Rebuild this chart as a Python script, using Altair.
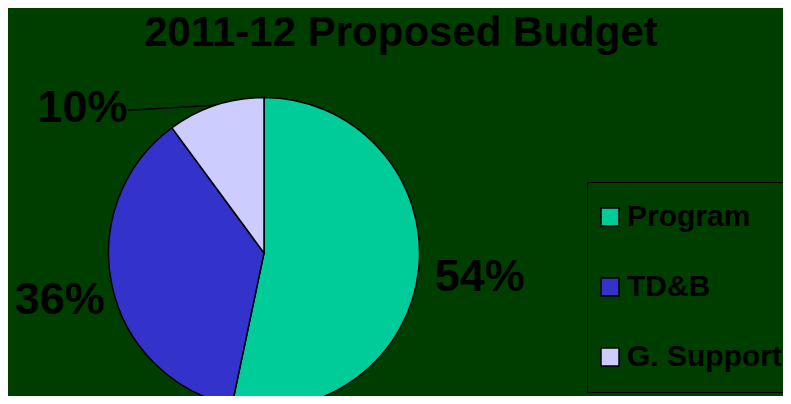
import altair as alt
import pandas as pd

# ---- data ----
categories = ["Program", "TD&B", "G. Support"]
shares = [53.3, 36.6, 10.1]          # slice sizes as drawn
labels = ["54%", "36%", "10%"]       # printed labels
colors = ["#00CC99", "#3333CC", "#CCCCFF"]
title_text = "2011-12 Proposed Budget"

df = pd.DataFrame({
    "category": categories,
    "share": shares,
    "label": labels,
    "idx": list(range(len(categories))),
})

FONT = "Liberation Sans"
CX, CY, R = 256, 245, 155.5   # pie centre / radius (plot coords)
BG = "#003E00"

base = alt.Chart(df).encode(
    theta=alt.Theta("share:Q", stack=True),
    order=alt.Order("idx:Q"),
)

arcs = base.mark_arc(radius=R, stroke="black", strokeWidth=1.5).encode(
    x=alt.value(CX),
    y=alt.value(CY),
    color=alt.Color(
        "category:N",
        sort=categories,
        scale=alt.Scale(domain=categories, range=colors),
        legend=alt.Legend(
            title=None, orient="none", legendX=579, legendY=174,
            direction="vertical", symbolType="square", symbolSize=324,
            symbolStrokeColor="black", symbolStrokeWidth=1.5, symbolOpacity=1,
            symbolOffset=-12,
            labelFont=FONT, labelFontSize=30, labelFontWeight="bold",
            labelColor="black", labelOffset=2, rowPadding=40, padding=20,
            strokeColor="black", labelLimit=400,
        ),
    ),
)


def pct_label(cat, radius, dx, dy, align):
    return base.mark_text(
        radius=radius, dx=dx, dy=dy, align=align, baseline="middle",
        font=FONT, fontSize=45, fontWeight="bold", color="black",
    ).encode(
        x=alt.value(CX),
        y=alt.value(CY),
        text=alt.condition(alt.datum.category == cat, alt.Text("label:N"), alt.value("")),
    )


lab_prog = pct_label("Program", 217, 0, 2, "center")
lab_tdb = pct_label("TD&B", 209, 0, 3, "center")
lab_gs = pct_label("G. Support", R, -88, 3, "right")

leader = alt.Chart(df).transform_joinaggregate(
    total="sum(share)"
).transform_window(
    cum="sum(share)", sort=[alt.SortField("idx")]
).transform_calculate(
    mid="(datum.cum - datum.share / 2) / datum.total * 2 * PI",
).transform_calculate(
    lx=f"{CX} + {R} * sin(datum.mid)",
    ly=f"{CY} - {R} * cos(datum.mid)",
).transform_calculate(
    lx2="datum.lx - 88",
    ly2="datum.ly + 5",
).transform_filter(
    alt.datum.category == "G. Support"
).mark_rule(color="black", strokeWidth=1.5).encode(
    x=alt.X("lx:Q", scale=None),
    y=alt.Y("ly:Q", scale=None),
    x2="lx2:Q",
    y2="ly2:Q",
)

title = alt.Chart(pd.DataFrame({"t": [title_text]})).mark_text(
    font=FONT, fontSize=42, fontWeight="bold", color="black",
    align="center", baseline="alphabetic",
).encode(
    x=alt.value(393),
    y=alt.value(38),
    text="t:N",
)

chart = alt.layer(arcs, lab_prog, lab_tdb, lab_gs, leader, title).properties(
    width=775, height=388, autosize="none", padding=0,
).configure(background=BG).configure_view(stroke=None)

chart.save("out.html", embed_options={"renderer": "svg", "actions": False})
